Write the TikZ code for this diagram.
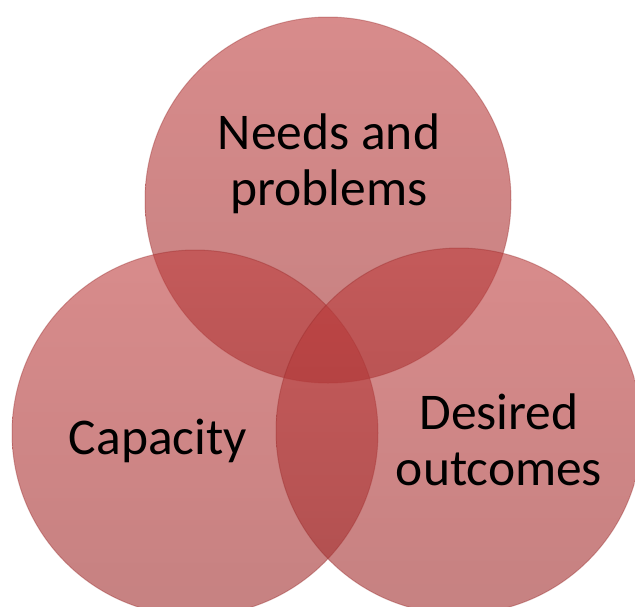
\documentclass[tikz,border=0pt]{standalone}
\usepackage{fontspec}
\setmainfont{Carlito}
\definecolor{vtop}{RGB}{190,62,62}
\definecolor{vbot}{RGB}{160,45,45}
\definecolor{vrim}{RGB}{150,40,40}
\tikzstyle{venn}   = [circle, inner sep=0pt, minimum size=366pt, top color=vtop, bottom color=vbot,
                      fill opacity=0.6, draw=vrim, draw opacity=0.35, line width=1pt]
\tikzstyle{vlabel} = [align=center, inner sep=0pt, font=\fontsize{51.5}{55.5}\selectfont]
\begin{document}
\begin{tikzpicture}[x=1pt, y=-1pt]
    \useasboundingbox (0,0) rectangle (635,606);
    \node[venn] (needs)    at (328,200) {};
    \node[venn] (capacity) at (195,433) {};
    \node[venn] (outcomes) at (459,431) {};
    % labels
    \node[vlabel] (needs text)    at (329,164) {Needs and\\problems};
    \node[vlabel] (capacity text) at (158,441) {Capacity};
    \node[vlabel] (outcomes text) at (499,440) {Desired\\outcomes};
\end{tikzpicture}
\end{document}
